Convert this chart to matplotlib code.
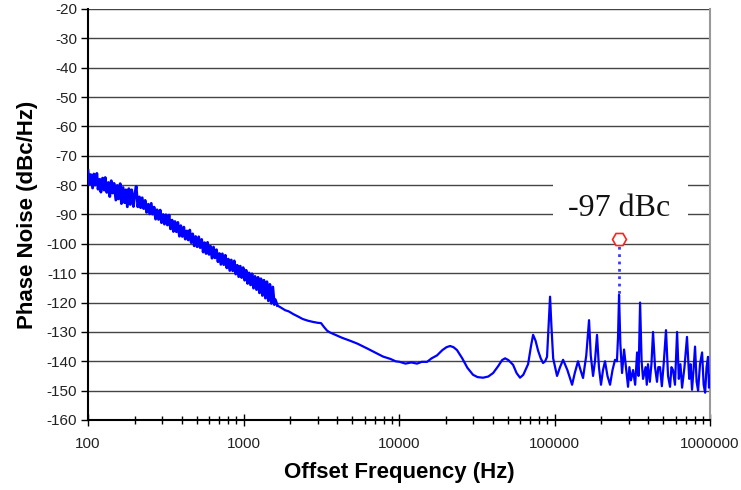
import matplotlib.pyplot as plt
import matplotlib.patches as patches
from matplotlib.ticker import FixedLocator, LogLocator, NullFormatter

# low offset region: noisy close-in phase noise (Hz, dBc/Hz)
freq_low = [100, 102, 104, 107, 109, 111, 114, 116, 119, 121, 124, 127, 129, 132, 135, 138,
            141, 144, 147, 151, 154, 157, 161, 164, 168, 172, 175, 179, 183, 187, 191, 196,
            200, 204, 209, 214, 218, 223, 228, 233, 238, 244, 249, 255, 260, 266, 272, 278,
            284, 291, 297, 304, 310, 317, 324, 332, 339, 347, 354, 362, 370, 378, 387, 395,
            404, 413, 422, 432, 441, 451, 461, 471, 482, 492, 503, 515, 526, 538, 550, 562,
            574, 587, 600, 613, 627, 641, 655, 670, 685, 700, 715, 731, 747, 764, 781, 798,
            816, 834, 853, 872, 891, 911, 931, 952, 973, 994, 1016, 1039, 1062, 1086, 1110,
            1134, 1160, 1185, 1212, 1239, 1266, 1294, 1323, 1353, 1383, 1413, 1445, 1477,
            1510, 1543, 1578, 1600]
pn_low = [-75.0, -79.7, -76.4, -81.0, -76.2, -80.0, -76.0, -81.4, -78.0, -82.4, -77.6,
          -81.7, -77.4, -82.5, -79.1, -83.9, -78.5, -82.7, -79.4, -85.1, -80.1, -84.7,
          -79.5, -86.3, -80.8, -86.0, -81.6, -87.4, -81.2, -86.6, -81.6, -87.3, -83.0,
          -80.4, -87.4, -84.0, -87.7, -84.3, -88.0, -85.2, -89.3, -86.5, -89.8, -86.2,
          -89.9, -87.5, -91.6, -88.4, -91.7, -88.5, -92.8, -90.0, -93.3, -90.1, -93.6,
          -90.2, -94.9, -91.9, -95.8, -92.4, -95.9, -92.7, -97.4, -93.8, -97.5, -94.3,
          -98.4, -95.6, -98.7, -95.3, -99.6, -96.6, -100.7, -97.5, -101.0, -97.6, -101.3,
          -98.5, -102.8, -99.6, -103.3, -99.5, -103.6, -100.8, -104.9, -101.1, -104.8,
          -102.0, -106.1, -103.3, -107.0, -103.4, -107.1, -103.9, -108.2, -105.2, -109.1,
          -105.5, -109.2, -105.8, -110.3, -107.3, -111.2, -107.6, -111.5, -108.1, -112.4,
          -109.0, -113.5, -109.9, -114.0, -110.2, -115.1, -111.1, -115.6, -111.4, -116.7,
          -111.9, -117.6, -112.4, -118.5, -112.9, -119.4, -113.8, -120.3, -114.7, -120.7,
          -119.0]

# mid offsets: smooth roll-off with loop bumps
freq_mid = [1650, 1750, 1850, 1950, 2100, 2250, 2400, 2600, 2800, 3000, 3150, 3300, 3450,
            3600, 3900, 4300, 4840, 5400, 6220, 7000, 7890, 8800, 9500, 10100, 11000,
            12000, 13050, 14000, 15140, 16200, 17550, 19000, 20200, 21300, 22400, 23600,
            25500, 27500, 29900, 32000, 34700, 37500, 40300, 43500, 46000, 48100, 50500,
            54100, 57000, 60000, 63000, 67600, 70500, 72800, 75500, 78400, 81500, 84400,
            87000, 89500]
pn_mid = [-121.0, -121.8, -122.6, -123.0, -124.0, -124.8, -125.6, -126.2, -126.6, -126.9,
          -127.0, -128.4, -129.6, -130.2, -131.0, -132.0, -133.0, -134.0, -135.6, -137.0,
          -138.4, -139.2, -140.0, -140.2, -140.8, -140.4, -140.8, -140.2, -140.2, -139.0,
          -138.0, -136.2, -135.2, -134.8, -135.2, -136.2, -139.0, -142.2, -144.6, -145.4,
          -145.6, -145.2, -144.0, -141.6, -139.6, -139.0, -139.6, -141.2, -144.0, -145.6,
          -144.6, -141.0, -135.0, -131.0, -133.0, -136.4, -139.0, -140.6, -140.0, -138.5]

# high offsets: spurs on the noise floor
freq_high = [91500, 93600, 95500, 98000, 103800, 108500, 113500, 121000, 129700, 135000,
             141600, 147000, 152500, 160000, 166700, 171000, 176900, 182000, 187600, 193000,
             199000, 205000, 211200, 219000, 227500, 236000, 245000, 252000, 256000, 260000,
             265000, 271800, 280000, 288000, 297000, 303000, 310000, 320000, 330000, 339600,
             347000, 355000, 363000, 371000, 385000, 392000, 399000, 410000, 420000, 430000,
             443000, 456000, 465000, 477000, 490000, 505000, 521000, 537000, 553000, 565000,
             578000, 595000, 614000, 630000, 645000, 661000, 685000, 711000, 735000, 750000,
             766000, 783000, 801000, 820000, 838000, 862000, 889000, 910000, 930000, 950000,
             971000, 985000, 1000000]
pn_high = [-128.0, -118.0, -128.0, -139.0, -145.0, -142.0, -139.5, -143.0, -148.0, -144.0,
           -140.0, -143.0, -145.7, -138.0, -126.0, -138.0, -145.0, -140.0, -131.0, -142.0,
           -148.0, -143.0, -140.0, -145.0, -148.0, -143.0, -139.5, -140.0, -132.0, -117.4,
           -134.0, -144.0, -136.0, -142.0, -148.7, -142.0, -146.5, -143.0, -148.0, -137.0,
           -145.0, -120.0, -140.0, -146.0, -142.0, -148.0, -141.0, -147.0, -141.0, -130.0,
           -142.0, -147.0, -142.0, -142.0, -148.5, -140.0, -129.4, -145.0, -148.7, -142.0,
           -143.0, -148.0, -130.0, -146.0, -141.0, -149.0, -142.0, -131.7, -146.0, -141.0,
           -149.7, -143.0, -135.0, -147.0, -150.0, -141.0, -137.0, -148.0, -150.7, -142.0,
           -138.5, -149.0, -145.0]

spur_freq = 260000
spur_level = -117.4
marker_level = -98.3
spur_label = "-97 dBc"

y_ticks = list(range(-160, -10, 10))
x_ticks = [100, 1000, 10000, 100000, 1000000]
x_tick_labels = ["100", "1000", "10000", "100000", "1000000"]

plt.rcParams['font.family'] = ['Liberation Sans', 'DejaVu Sans']

fig = plt.figure(figsize=(7.41, 4.90), dpi=100)
ax = fig.add_axes([0.1188, 0.1429, 0.8394, 0.8388])

# noisy part drawn a little heavier so it reads as a band
ax.plot(freq_low + freq_mid[:1], pn_low + pn_mid[:1], color="#0000ff", linewidth=2.0,
        zorder=3)
ax.plot(freq_mid + freq_high, pn_mid + pn_high, color="#0000ff", linewidth=1.6, zorder=3)
ax.plot([spur_freq, spur_freq], [marker_level, spur_level], color="#3a3aff",
        linestyle=":", linewidth=2, zorder=3)
ax.plot([spur_freq], [marker_level], marker="H", markersize=10, markerfacecolor="white",
        markeredgecolor="#ff2020", markeredgewidth=1.2, linestyle="none", zorder=4)

# white box behind the label hides the grid lines
ax.add_patch(patches.Rectangle((0.7476, 0.467), 0.217, 0.136, transform=ax.transAxes,
                               facecolor="white", edgecolor="none", zorder=2))
ax.text(spur_freq, -88.0, spur_label, family=['Liberation Serif', 'DejaVu Serif'],
        fontsize=23, color="#111111", ha="center", va="center", zorder=5)

ax.set_xscale("log")
ax.set_xlim(100, 1000000)
ax.set_ylim(-160, -20)

ax.xaxis.set_major_locator(FixedLocator(x_ticks))
ax.set_xticklabels(x_tick_labels)
ax.xaxis.set_minor_locator(LogLocator(base=10, subs=range(2, 10)))
ax.xaxis.set_minor_formatter(NullFormatter())
ax.set_yticks(y_ticks)
ax.set_yticklabels([str(v) for v in y_ticks])

ax.grid(True, axis="y", color="#444444", linewidth=1.0, zorder=1)
ax.set_axisbelow(True)

ax.spines["top"].set_visible(False)
ax.spines["right"].set_color("#999999")
ax.spines["right"].set_linewidth(1.5)
ax.spines["left"].set_linewidth(1.5)
ax.spines["bottom"].set_linewidth(1.5)

ax.tick_params(axis="y", direction="out", length=5, width=1, labelsize=11,
               labelcolor="#222222", pad=3)
ax.tick_params(axis="x", which="major", direction="inout", length=8, width=1,
               labelsize=11, labelcolor="#222222", pad=8)
ax.tick_params(axis="x", which="minor", direction="inout", length=6, width=1)

ax.set_xlabel("Offset Frequency (Hz)", fontsize=16, fontweight="bold", labelpad=8)
ax.set_ylabel("Phase Noise (dBc/Hz)", fontsize=16, fontweight="bold", labelpad=6)

fig.savefig("out.png", dpi=100)
